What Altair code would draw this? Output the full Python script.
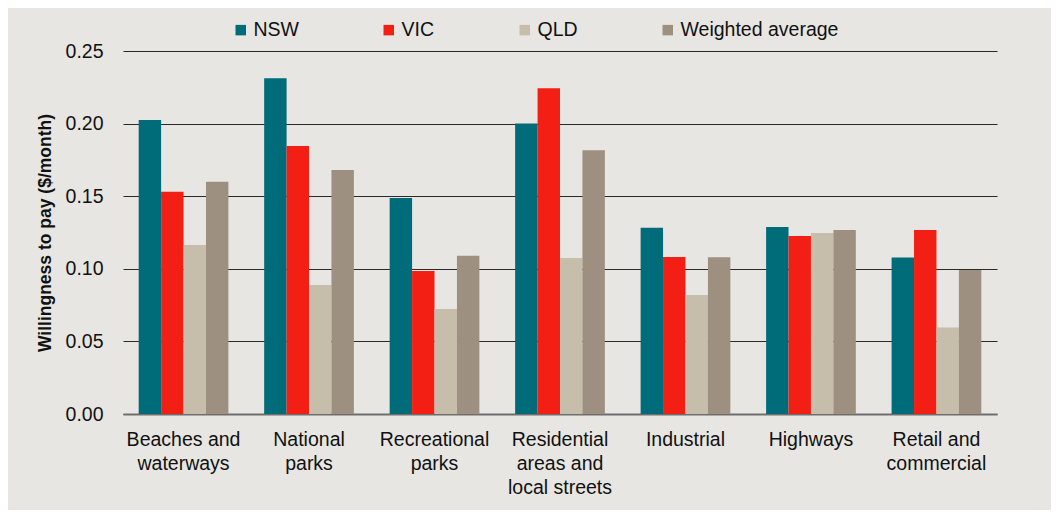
import altair as alt
import pandas as pd

categories = ["Beaches and\nwaterways", "National\nparks", "Recreational\nparks",
              "Residential\nareas and\nlocal streets", "Industrial", "Highways",
              "Retail and\ncommercial"]
series = ["NSW", "VIC", "QLD", "Weighted average"]
nsw = [0.2025, 0.2312, 0.1488, 0.2000, 0.1283, 0.1288, 0.1077]
vic = [0.1531, 0.1846, 0.0985, 0.2243, 0.1081, 0.1226, 0.1267]
qld = [0.1164, 0.0888, 0.0723, 0.1074, 0.0820, 0.1247, 0.0595]
wavg = [0.1600, 0.1680, 0.1090, 0.1816, 0.1079, 0.1267, 0.0992]
colors = ["#006C7A", "#F41F14", "#C6BEAB", "#9D9080"]

rows = []
for s, vals in zip(series, [nsw, vic, qld, wavg]):
    for c, v in zip(categories, vals):
        rows.append({"cat": c, "series": s, "value": v})
df = pd.DataFrame(rows)

FONT = "Liberation Sans"
FS = 19.5

chart = alt.Chart(df).mark_bar().encode(
    x=alt.X("cat:N", sort=categories, title=None,
            scale=alt.Scale(paddingInner=0.285, paddingOuter=0.125),
            axis=alt.Axis(labelAngle=0, labelExpr="split(datum.label, '\\n')",
                          labelFontSize=FS, labelLineHeight=24, labelPadding=16,
                          labelColor="#111", ticks=False, domain=True,
                          domainColor="#6E6E6E", domainWidth=2, labelFont=FONT,
                          labelLimit=300)),
    xOffset=alt.XOffset("series:N", sort=series, scale=alt.Scale(paddingInner=0, paddingOuter=0)),
    y=alt.Y("value:Q", title="Willingness to pay ($/month)",
            scale=alt.Scale(domain=[0, 0.25], nice=False),
            axis=alt.Axis(values=[0, 0.05, 0.1, 0.15, 0.2, 0.25], format=".2f",
                          labelFontSize=FS, labelPadding=20, labelColor="#111",
                          labelFont=FONT, ticks=False, domain=False, grid=True,
                          gridColor="#2A2A2A", gridWidth=1,
                          titleFontSize=17.5, titleFont=FONT, titleFontWeight="bold",
                          titleColor="#111", titlePadding=11)),
    color=alt.Color("series:N", sort=series,
                    scale=alt.Scale(domain=series, range=colors),
                    legend=alt.Legend(title=None, orient="none", direction="horizontal",
                                      columns=4, legendX=108, legendY=-31,
                                      symbolType="square", symbolSize=110,
                                      symbolStrokeWidth=0, labelFontSize=FS,
                                      labelFont=FONT, labelColor="#111",
                                      columnPadding=80, labelOffset=3)),
).properties(
    width=874, height=363,
    background="#E8E6E2",
    padding={"left": 115, "top": 43, "right": 54, "bottom": 96},
    autosize=alt.AutoSizeParams(type="none"),
).configure_view(stroke=None, fill="#E8E6E2")

chart.save("out.html", embed_options={"renderer": "svg", "actions": False})
